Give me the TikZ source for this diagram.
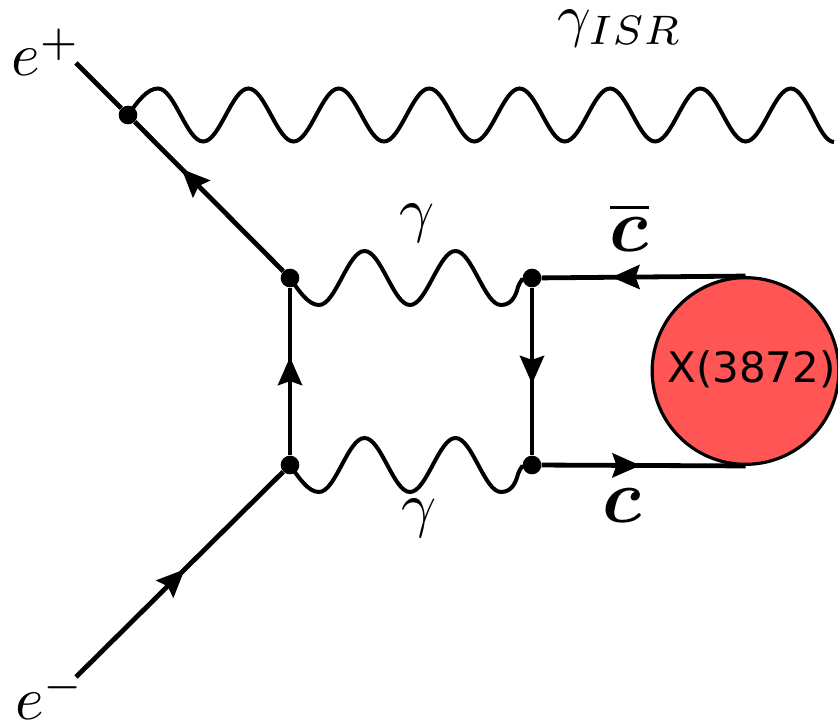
\documentclass[tikz,border=0pt]{standalone}
\usepackage{amsmath}
\usepackage{amssymb}
\usepackage{fontspec}
\usepackage{tikz}
\usetikzlibrary{arrows.meta,decorations.markings,positioning}
\newfontfamily\blobfont{DejaVu Sans}
\definecolor{blobred}{HTML}{FF5555}
\tikzset{
  vertex/.style={circle,fill=black,inner sep=0pt,minimum size=14pt},
  line/.style={draw=black,line width=3.6pt},
  photon/.style={draw=black,line width=3pt},
  fermion/.style={postaction={decorate},decoration={markings,
    mark=at position #1 with {\arrow{Stealth[length=21pt,width=18pt,inset=3pt]}}}},
  lab/.style={scale=4.6,inner sep=0pt},
  clab/.style={scale=5.7,inner sep=0pt,anchor=base west},
  elab/.style={scale=4.6,inner sep=0pt,anchor=base west}
}
\begin{document}
\begin{tikzpicture}[x=0.75pt,y=-0.75pt,node distance=140.25pt,on grid]
\useasboundingbox (0,0) rectangle (838,723);
\node[vertex] (v_up) at (290,278) {};
\node[vertex] (v_down) [below=of v_up] {};
\node[vertex] (v_right) [right=181.5pt of v_up] {};
\node[vertex] (v_rdown) [right=181.5pt of v_down] {};
\node[vertex] (v_isr) [above left=122.25pt and 121.5pt of v_up] {};
\coordinate[above left=39pt and 39pt of v_isr] (e_plus);
\coordinate[below left=159pt and 160.5pt of v_down] (e_minus);
\coordinate (isr_end) at (834,142);
\node[circle,draw=black,line width=2.4pt,fill=blobred,inner sep=0pt,minimum size=140pt] (blob) at (745.5,371) {};
\node (blob_txt) at (751.5,369) {\fontsize{31.5pt}{34pt}\blobfont X(3872)};
\path[line]
(v_isr) edge (e_plus)
(v_up) edge[fermion=.684] (v_isr)
(e_minus) edge[fermion=.525] (v_down)
(v_down) edge[fermion=.586] (v_up)
(v_right) edge[fermion=.574] (v_rdown)
(blob.north) edge[fermion=.657] (v_right)
(v_rdown) edge[fermion=.485] (blob.south);
% photons
\draw[photon] (v_isr) sin ++(30,-26.5) cos ++(22.6,26.5) sin ++(22.6,26.5) cos ++(22.6,-26.5) sin ++(22.6,-26.5)
  \foreach \n in {1,...,6}{ cos ++(22.6,26.5) sin ++(22.6,26.5) cos ++(22.6,-26.5) sin ++(22.6,-26.5) }
  cos ++(22,26.5) sin (isr_end);
\foreach \a/\b in {v_up/v_right,v_down/v_rdown}
  \draw[photon] (\a) sin ++(29,27) cos ++(22.75,-27) sin ++(22.75,-27) cos ++(22.75,27) sin ++(22.75,27)
    cos ++(22.75,-27) sin ++(22.75,-27) cos ++(22.75,27) sin ++(22.75,27)
    .. controls +(11,0) and +(-2,8) .. ++(17,-18) .. controls +(2,-6) and +(-8,0) .. (\b);
% labels
\node[elab] (l_eplus) at (10,76) {$e\raisebox{3.4pt}{$\scriptstyle +$}$};
\node[elab] (l_eminus) at (14,719) {$e\raisebox{3.4pt}{$\scriptstyle -$}$};
\node[lab,scale=.96] (l_isr) at (620,29) {$\gamma_{ISR}$};
\node[lab] (l_gup) at (417,223) {$\gamma$};
\node[lab] (l_gdown) at (419,518) {$\gamma$};
\node[clab] (l_cbar) at (608,252) {$\overline{\boldsymbol{c}}$};
\node[clab] (l_c) at (601,522) {$\boldsymbol{c}$};
\end{tikzpicture}
\end{document}
